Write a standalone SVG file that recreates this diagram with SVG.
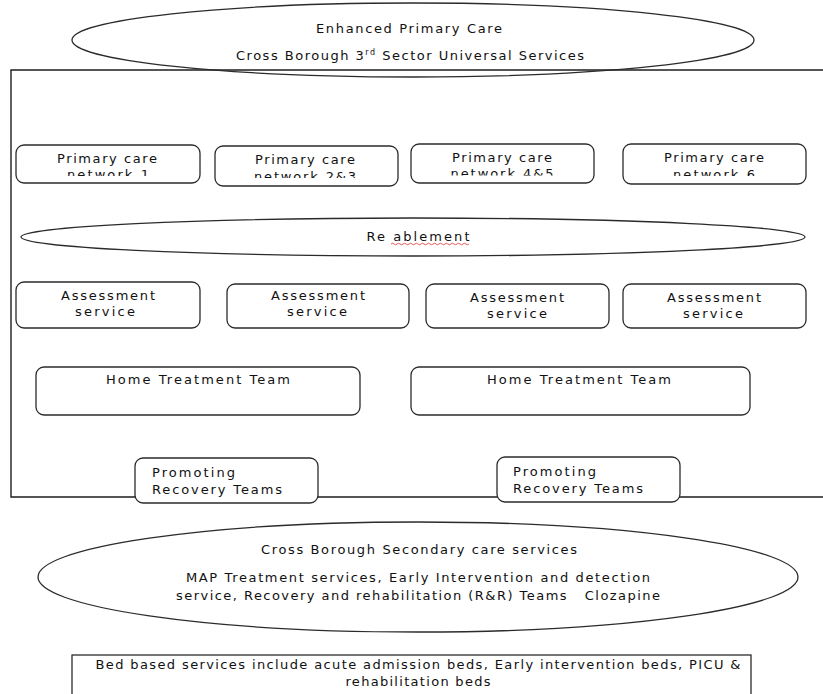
<svg xmlns="http://www.w3.org/2000/svg" width="823" height="694" viewBox="0 0 823 694">
<style>
text{font-family:"DejaVu Sans","Verdana",sans-serif;font-size:13px;fill:#111}
.c{text-anchor:middle}
.box{fill:#fff;stroke:#2b2b2b;stroke-width:1.3}
.ell{fill:none;stroke:#2b2b2b;stroke-width:1.3}
.frame{fill:none;stroke:#1e1e1e;stroke-width:1.4}
</style>
<defs>
<clipPath id="cp1"><rect x="16" y="145" width="184" height="31"/></clipPath>
<clipPath id="cp2"><rect x="215" y="146" width="183" height="32"/></clipPath>
<clipPath id="cp3"><rect x="411" y="144" width="183" height="31.5"/></clipPath>
<clipPath id="cp4"><rect x="623" y="144" width="183" height="32"/></clipPath>
</defs>
<rect width="823" height="694" fill="#fff"/>

<g id="frame">
<path class="frame" d="M830,70 H11 V497 H830"/>
</g>

<g id="enhanced-primary-care">
<ellipse class="ell" cx="413" cy="40" rx="341" ry="37"/>
<text class="c" x="409" y="33" textLength="186" lengthAdjust="spacing">Enhanced Primary Care</text>
<text class="c" x="410" y="60" textLength="348" lengthAdjust="spacing">Cross Borough 3<tspan font-size="8" dy="-5">rd</tspan><tspan dy="5"> Sector Universal Services</tspan></text>
</g>

<g id="pcn1">
<rect class="box" x="16" y="145" width="184" height="38" rx="8"/>
<g clip-path="url(#cp1)">
<text class="c" x="107" y="163" textLength="100" lengthAdjust="spacing">Primary care</text>
<text class="c" x="108" y="179" textLength="82" lengthAdjust="spacing">network 1</text>
</g>
</g>
<g id="pcn23">
<rect class="box" x="215" y="146" width="183" height="40" rx="8"/>
<g clip-path="url(#cp2)">
<text class="c" x="305" y="164" textLength="100" lengthAdjust="spacing">Primary care</text>
<text class="c" x="305" y="181" textLength="102" lengthAdjust="spacing">network 2&amp;3</text>
</g>
</g>
<g id="pcn45">
<rect class="box" x="411" y="144" width="183" height="39" rx="8"/>
<g clip-path="url(#cp3)">
<text class="c" x="502" y="162" textLength="100" lengthAdjust="spacing">Primary care</text>
<text class="c" x="502" y="178" textLength="103" lengthAdjust="spacing">network 4&amp;5</text>
</g>
</g>
<g id="pcn6">
<rect class="box" x="623" y="144" width="183" height="40" rx="8"/>
<g clip-path="url(#cp4)">
<text class="c" x="714" y="162" textLength="100" lengthAdjust="spacing">Primary care</text>
<text class="c" x="714" y="179" textLength="82" lengthAdjust="spacing">network 6</text>
</g>
</g>

<g id="reablement">
<ellipse class="ell" cx="413" cy="237" rx="392" ry="19"/>
<text class="c" x="418" y="241" textLength="103" lengthAdjust="spacing">Re ablement</text>
<path d="M391,244 q1.5,-1.5 3,0 t3,0 t3,0 t3,0 t3,0 t3,0 t3,0 t3,0 t3,0 t3,0 t3,0 t3,0 t3,0 t3,0 t3,0 t3,0 t3,0 t3,0 t3,0 t3,0 t3,0 t3,0 t3,0 t3,0 t3,0 t3,0" fill="none" stroke="#e03030" stroke-width="0.8"/>
</g>

<g id="assess1">
<rect class="box" x="16" y="282" width="184" height="46" rx="8"/>
<text class="c" x="108" y="300" textLength="94" lengthAdjust="spacing">Assessment</text>
<text class="c" x="105" y="316" textLength="60" lengthAdjust="spacing">service</text>
</g>
<g id="assess2">
<rect class="box" x="227" y="284" width="182" height="44" rx="8"/>
<text class="c" x="318" y="300" textLength="94" lengthAdjust="spacing">Assessment</text>
<text class="c" x="317" y="316" textLength="60" lengthAdjust="spacing">service</text>
</g>
<g id="assess3">
<rect class="box" x="426" y="284" width="183" height="44" rx="8"/>
<text class="c" x="517" y="302" textLength="94" lengthAdjust="spacing">Assessment</text>
<text class="c" x="517" y="318" textLength="60" lengthAdjust="spacing">service</text>
</g>
<g id="assess4">
<rect class="box" x="623" y="284" width="183" height="44" rx="8"/>
<text class="c" x="714" y="302" textLength="94" lengthAdjust="spacing">Assessment</text>
<text class="c" x="713" y="318" textLength="60" lengthAdjust="spacing">service</text>
</g>

<g id="htt1">
<rect class="box" x="36" y="367" width="324" height="48" rx="8"/>
<text class="c" x="198" y="384" textLength="184" lengthAdjust="spacing">Home Treatment Team</text>
</g>
<g id="htt2">
<rect class="box" x="411" y="367" width="339" height="48" rx="8"/>
<text class="c" x="579" y="384" textLength="184" lengthAdjust="spacing">Home Treatment Team</text>
</g>

<g id="prt1">
<rect class="box" x="135" y="458" width="183" height="45" rx="8"/>
<text x="152" y="477" textLength="83" lengthAdjust="spacing">Promoting</text>
<text x="152" y="494" textLength="130" lengthAdjust="spacing">Recovery Teams</text>
</g>
<g id="prt2">
<rect class="box" x="497" y="457" width="183" height="45" rx="8"/>
<text x="513" y="476" textLength="83" lengthAdjust="spacing">Promoting</text>
<text x="513" y="493" textLength="130" lengthAdjust="spacing">Recovery Teams</text>
</g>

<g id="secondary-care">
<ellipse class="ell" cx="418" cy="577" rx="380" ry="55"/>
<text class="c" x="419" y="554" textLength="316" lengthAdjust="spacing">Cross Borough Secondary care services</text>
<text class="c" x="418" y="582" textLength="464" lengthAdjust="spacing">MAP Treatment services, Early Intervention and detection</text>
<text class="c" x="418" y="600" textLength="484" lengthAdjust="spacing" xml:space="preserve">service, Recovery and rehabilitation (R&amp;R) Teams   Clozapine</text>
</g>

<g id="bed-based">
<rect class="box" x="72" y="655" width="679" height="60"/>
<text class="c" x="418" y="669" textLength="645" lengthAdjust="spacing">Bed based services include acute admission beds, Early intervention beds, PICU &amp;</text>
<text class="c" x="418" y="686" textLength="145" lengthAdjust="spacing">rehabilitation beds</text>
</g>

<g id="connectors"></g>
</svg>
